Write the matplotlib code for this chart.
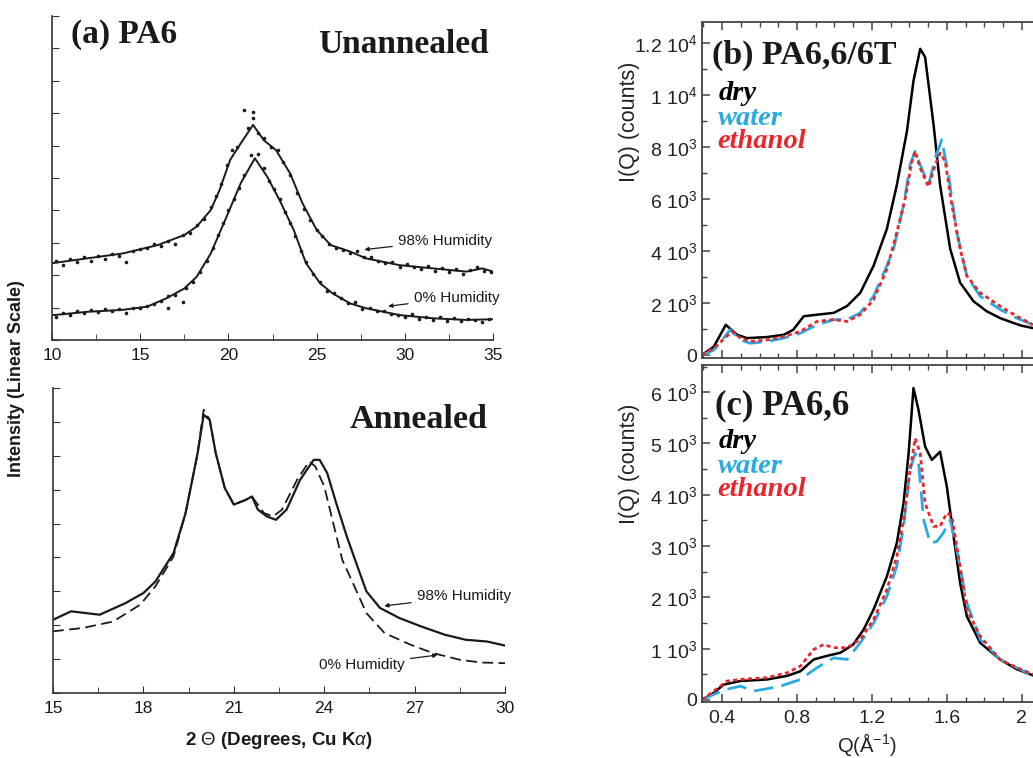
import numpy as np
import matplotlib
matplotlib.use('Agg')
import matplotlib.pyplot as plt
from matplotlib.ticker import MultipleLocator, FixedLocator

plt.rcParams['font.family'] = ['Liberation Sans', 'DejaVu Sans']
plt.rcParams['mathtext.fontset'] = 'custom'
plt.rcParams['mathtext.rm'] = 'Liberation Sans'
plt.rcParams['mathtext.it'] = 'Liberation Sans:italic'
plt.rcParams['mathtext.bf'] = 'Liberation Sans:bold'

# ---- (a) PA6, unannealed: smoothed curves (2theta, intensity a.u.)
un98_x = [10, 12, 14, 16, 17.5, 18.2, 19, 19.5, 20.1, 20.7, 21.4, 22, 22.7, 23.5, 24.2, 25, 25.8, 26.9, 27.8, 29.7, 31.6, 33.5, 34.4, 35]
un98_y = [2.37, 2.52, 2.67, 2.93, 3.24, 3.50, 4.01, 4.63, 5.56, 6.07, 6.64, 6.17, 5.86, 5.14, 4.22, 3.40, 2.93, 2.73, 2.52, 2.31, 2.21, 2.11, 2.21, 2.11]
un0_x = [10.1, 12, 14, 15.4, 16.5, 17.5, 18.2, 19, 19.9, 20.7, 21.5, 22.2, 22.9, 23.7, 24.4, 25.2, 25.9, 26.9, 27.8, 29.7, 31.6, 33.5, 35]
un0_y = [0.77, 0.87, 0.93, 1.03, 1.29, 1.59, 1.95, 2.67, 3.81, 4.84, 5.61, 5.04, 4.32, 3.40, 2.37, 1.75, 1.44, 1.13, 0.98, 0.77, 0.67, 0.62, 0.64]

# measured points
un98_px = [10.2, 10.6, 11.0, 11.4, 11.8, 12.2, 12.6, 13.0, 13.4, 13.8, 14.2, 14.6, 15.0, 15.4, 15.8, 16.2, 16.6, 17.0,
           17.4, 17.8, 18.2, 18.6, 19.0, 19.3, 19.6, 19.9, 20.2, 20.5, 20.9, 21.1, 21.4, 21.4, 21.7, 22.0, 22.4, 22.8,
           23.1, 23.5, 23.9, 24.3, 24.6, 25.0, 25.3, 25.7, 26.1, 26.5, 26.9, 27.3, 27.7, 28.1, 28.5, 28.9, 29.3, 29.7,
           30.1, 30.5, 30.9, 31.3, 31.7, 32.1, 32.5, 32.9, 33.3, 33.7, 34.1, 34.5, 34.9]
un98_py = [2.45, 2.30, 2.50, 2.40, 2.55, 2.45, 2.58, 2.50, 2.66, 2.60, 2.40, 2.75, 2.80, 2.85, 2.95, 2.90, 3.05, 2.95,
           3.25, 3.30, 3.55, 3.75, 4.10, 4.45, 4.80, 5.40, 5.85, 5.95, 7.10, 6.55, 7.05, 6.85, 6.40, 6.25, 5.95, 5.85,
           5.50, 5.10, 4.55, 4.05, 3.70, 3.40, 3.20, 2.95, 2.85, 2.78, 2.70, 2.75, 2.55, 2.55, 2.45, 2.38, 2.40, 2.25,
           2.35, 2.25, 2.20, 2.28, 2.12, 2.22, 2.10, 2.18, 2.05, 2.15, 2.25, 2.12, 2.10]
un0_px = [10.2, 10.6, 11.0, 11.4, 11.8, 12.2, 12.6, 13.0, 13.4, 13.8, 14.2, 14.6, 15.0, 15.4, 15.8, 16.2, 16.6, 16.6,
          17.0, 17.4, 17.6, 18.0, 18.4, 18.8, 19.1, 19.4, 19.7, 20.0, 20.3, 20.6, 20.9, 21.3, 21.7, 22.0, 22.3, 22.6,
          22.9, 23.2, 23.5, 23.8, 24.1, 24.4, 24.8, 25.2, 25.6, 26.0, 26.4, 26.8, 27.2, 27.6, 28.0, 28.4, 28.8, 29.2,
          29.6, 30.0, 30.4, 30.8, 31.2, 31.6, 32.0, 32.4, 32.8, 33.2, 33.6, 34.0, 34.4, 34.8]
un0_py = [0.72, 0.82, 0.78, 0.88, 0.84, 0.92, 0.85, 0.95, 0.88, 0.96, 0.82, 1.00, 0.98, 1.05, 1.12, 1.20, 0.98, 1.35,
          1.38, 1.18, 1.62, 1.80, 2.10, 2.45, 2.85, 3.25, 3.60, 4.00, 4.35, 4.70, 5.10, 5.70, 5.74, 5.30, 4.90, 4.65,
          4.35, 3.95, 3.60, 3.20, 2.75, 2.40, 2.05, 1.80, 1.50, 1.45, 1.30, 1.15, 1.18, 0.95, 1.00, 0.88, 0.90, 0.80,
          0.78, 0.72, 0.80, 0.65, 0.70, 0.62, 0.70, 0.60, 0.68, 0.58, 0.66, 0.62, 0.55, 0.66]

# ---- (a) PA6, annealed
an98_x = [15, 15.6, 16.55, 17.4, 18, 18.4, 19, 19.4, 19.8, 20.0, 20.2, 20.4, 20.7, 21.0, 21.4, 21.6, 21.8, 22.1, 22.4,
          22.75, 23.2, 23.65, 23.85, 24.1, 24.4, 24.75, 25.1, 25.4, 25.85, 26.5, 27.2, 28.0, 28.7, 29.4, 30]
an98_y = [2.16, 2.41, 2.31, 2.65, 2.95, 3.29, 4.13, 5.31, 7.08, 8.21, 8.06, 7.08, 6.05, 5.56, 5.70, 5.80, 5.41, 5.21, 5.11,
          5.41, 6.29, 6.88, 6.88, 6.49, 5.60, 4.62, 3.74, 3.00, 2.51, 2.21, 1.97, 1.72, 1.57, 1.52, 1.40]
an0_x = [15, 16.0, 17.0, 17.9, 18.4, 19, 19.4, 19.8, 20.0, 20.2, 20.4, 20.7, 21.0, 21.4, 21.6, 22.0, 22.3, 22.6, 23.1,
         23.5, 23.7, 24.0, 24.3, 24.6, 25.0, 25.4, 26.0, 26.85, 27.6, 28.5, 29.2, 30]
an0_y = [1.82, 1.92, 2.11, 2.61, 3.15, 4.03, 5.31, 7.08, 8.36, 8.06, 7.08, 6.05, 5.56, 5.70, 5.80, 5.31, 5.21, 5.41, 6.29,
         6.83, 6.69, 6.10, 5.01, 3.93, 3.15, 2.36, 1.77, 1.43, 1.18, 0.98, 0.90, 0.88]

# ---- (b) PA6,6/6T  Q (1/A) vs I (counts)
b_dry_q = [0.293, 0.356, 0.42, 0.48, 0.533, 0.64, 0.73, 0.78, 0.836, 0.907, 0.996, 1.067, 1.138, 1.209, 1.28, 1.333,
           1.387, 1.422, 1.458, 1.484, 1.529, 1.564, 1.618, 1.671, 1.742, 1.813, 1.884, 1.956, 2.0, 2.06]
b_dry_i = [0, 320, 1160, 780, 650, 690, 780, 970, 1490, 1550, 1620, 1880, 2390, 3430, 4850, 6530,
           8600, 10540, 11770, 11450, 8860, 6530, 4080, 2780, 2070, 1680, 1420, 1230, 1125, 1035]
b_wat_q = [0.293, 0.356, 0.444, 0.498, 0.551, 0.64, 0.73, 0.818, 0.907, 0.996, 1.067, 1.138, 1.209, 1.28, 1.316, 1.369,
           1.404, 1.431, 1.458, 1.502, 1.538, 1.573, 1.609, 1.653, 1.707, 1.778, 1.884, 1.973, 2.06]
b_wat_i = [0, 190, 970, 580, 450, 520, 650, 840, 1160, 1360, 1360, 1620, 2260, 3430, 4080, 5760,
           7310, 7830, 7310, 6530, 7570, 8280, 6920, 4720, 3040, 2260, 1750, 1420, 1160]
b_eth_q = [0.293, 0.356, 0.453, 0.498, 0.551, 0.64, 0.73, 0.818, 0.907, 0.996, 1.067, 1.138, 1.209, 1.28, 1.333, 1.378,
           1.413, 1.431, 1.458, 1.502, 1.538, 1.564, 1.591, 1.627, 1.671, 1.707, 1.778, 1.884, 1.973, 2.06]
b_eth_i = [0, 260, 905, 650, 520, 580, 710, 905, 1290, 1360, 1290, 1550, 2130, 3300, 4720, 6020,
           7440, 7830, 7180, 6470, 7310, 7760, 7440, 5760, 4080, 3040, 2390, 1880, 1490, 1160]

# ---- (c) PA6,6
c_dry_q = [0.293, 0.356, 0.409, 0.498, 0.64, 0.747, 0.818, 0.889, 0.96, 1.031, 1.1, 1.156, 1.209, 1.28, 1.333, 1.369,
           1.396, 1.422, 1.449, 1.484, 1.52, 1.564, 1.6, 1.636, 1.671, 1.707, 1.778, 1.884, 1.973, 2.06]
c_dry_i = [0, 140, 300, 370, 400, 470, 560, 790, 860, 920, 1080, 1375, 1765, 2410, 3060, 3840,
           4810, 6080, 5650, 4940, 4680, 4840, 4160, 3190, 2280, 1630, 1115, 790, 600, 480]
c_wat_q = [0.293, 0.356, 0.427, 0.498, 0.569, 0.64, 0.711, 0.818, 0.907, 0.996, 1.067, 1.138, 1.209, 1.28, 1.333, 1.369,
           1.404, 1.431, 1.449, 1.476, 1.511, 1.547, 1.582, 1.618, 1.653, 1.707, 1.778, 1.884, 1.973, 2.06]
c_wat_i = [0, 110, 210, 270, 175, 220, 270, 400, 630, 820, 790, 1115, 1500, 2020, 2610, 3385,
           4490, 4810, 4620, 3515, 3060, 3090, 3260, 3515, 2930, 1890, 1180, 790, 630, 470]
c_eth_q = [0.293, 0.356, 0.427, 0.498, 0.64, 0.747, 0.818, 0.889, 0.942, 0.996, 1.067, 1.138, 1.209, 1.28, 1.333, 1.369,
           1.404, 1.431, 1.458, 1.484, 1.529, 1.564, 1.6, 1.627, 1.662, 1.707, 1.778, 1.884, 1.973, 2.06]
c_eth_i = [0, 175, 370, 400, 435, 530, 660, 985, 1080, 1020, 1020, 1180, 1570, 2150, 2800, 3515,
           4490, 5100, 4810, 3840, 3385, 3385, 3645, 3580, 2800, 1765, 1245, 790, 630, 500]

b_yticks = [0, 2000, 4000, 6000, 8000, 10000, 12000]
b_ylabels = ['0', '2 10$^3$', '4 10$^3$', '6 10$^3$', '8 10$^3$', '1 10$^4$', '1.2 10$^4$']
c_yticks = [0, 1000, 2000, 3000, 4000, 5000, 6000]
c_ylabels = ['0', '1 10$^3$', '2 10$^3$', '3 10$^3$', '4 10$^3$', '5 10$^3$', '6 10$^3$']
q_ticks = [0.4, 0.8, 1.2, 1.6, 2.0]
q_labels = ['0.4', '0.8', '1.2', '1.6', '2']

BLUE = '#29aae1'
RED = '#e8262c'
INK = '#1a1a1a'
W, H = 1033, 758

fig = plt.figure(figsize=(W / 100, H / 100), dpi=100)


def px_axes(x0, y0, x1, y1):
    # axes from pixel box (top-left origin)
    return fig.add_axes([x0 / W, 1 - y1 / H, (x1 - x0) / W, (y1 - y0) / H])


def style_left(ax):
    for s in ['top', 'right']:
        ax.spines[s].set_visible(False)
    for s in ['left', 'bottom']:
        ax.spines[s].set_color('#333333')
        ax.spines[s].set_linewidth(1.2)
    ax.tick_params(direction='in', which='both', colors='#333333', labelcolor=INK, labelsize=12.5, pad=6)
    ax.tick_params(which='major', length=5)
    ax.tick_params(which='minor', length=4)
    ax.set_yticklabels([])


# (a) top: unannealed
ax1 = px_axes(52, 16, 493, 340)
ax1.plot(un98_x, un98_y, color=INK, lw=1.4)
ax1.plot(un0_x, un0_y, color=INK, lw=1.4)
ax1.plot(un98_px, un98_py, ls='none', marker='o', ms=1.6, color=INK)
ax1.plot(un0_px, un0_py, ls='none', marker='o', ms=1.6, color=INK)
ax1.set_xlim(10, 35)
ax1.set_ylim(0, 10)
ax1.xaxis.set_major_locator(MultipleLocator(5))
ax1.xaxis.set_minor_locator(MultipleLocator(2.5))
ax1.yaxis.set_major_locator(MultipleLocator(1))
style_left(ax1)
ax1.annotate('98% Humidity', xy=(27.55, 2.78), xytext=(29.6, 3.07), fontsize=11, color=INK,
             va='center', ha='left', arrowprops=dict(arrowstyle='-|>', color=INK, lw=0.9, mutation_scale=6))
ax1.annotate('0% Humidity', xy=(28.9, 1.03), xytext=(30.5, 1.31), fontsize=11, color=INK,
             va='center', ha='left', arrowprops=dict(arrowstyle='-|>', color=INK, lw=0.9, mutation_scale=6))

# (a) bottom: annealed
ax2 = px_axes(53, 388, 505, 693)
ax2.plot(an98_x, an98_y, color=INK, lw=1.6)
ax2.plot(an0_x, an0_y, color=INK, lw=1.3, ls=(0, (6, 3)))
ax2.set_xlim(15, 30)
ax2.set_ylim(0, 9)
ax2.xaxis.set_major_locator(MultipleLocator(3))
ax2.xaxis.set_minor_locator(MultipleLocator(1.5))
ax2.yaxis.set_major_locator(MultipleLocator(1))
style_left(ax2)
ax2.annotate('98% Humidity', xy=(25.9, 2.56), xytext=(27.07, 2.85), fontsize=11, color=INK,
             va='center', ha='left', annotation_clip=False,
             arrowprops=dict(arrowstyle='-|>', color=INK, lw=0.9, mutation_scale=6))
ax2.annotate('0% Humidity', xy=(27.85, 1.13), xytext=(26.68, 0.84), fontsize=11, color=INK,
             va='center', ha='right', arrowprops=dict(arrowstyle='-|>', color=INK, lw=0.9, mutation_scale=6))
ax2.set_xlabel('2 $\\Theta$ (Degrees, Cu K$\\alpha$)', fontsize=13.5, fontweight='bold', color=INK, labelpad=10)

fig.text(17 / W, 1 - 379 / H, 'Intensity (Linear Scale)', rotation=90, ha='center', va='center',
         fontsize=13, fontweight='bold', color=INK)

serif = ['Liberation Serif', 'DejaVu Serif']
fig.text(71 / W, 1 - 43 / H, '(a) PA6', fontsize=24, fontweight='bold', family=serif, color=INK)
fig.text(489 / W, 1 - 53 / H, 'Unannealed', fontsize=24, fontweight='bold', family=serif, color=INK, ha='right')
fig.text(487 / W, 1 - 428 / H, 'Annealed', fontsize=24.5, fontweight='bold', family=serif, color=INK, ha='right')


def style_right(ax, yticks, ylabels, minor_y):
    ax.spines['right'].set_visible(False)
    for s in ['top', 'left', 'bottom']:
        ax.spines[s].set_color('#444444')
        ax.spines[s].set_linewidth(1.3)
    ax.set_xlim(0.293, 2.06)
    ax.xaxis.set_major_locator(FixedLocator(q_ticks))
    ax.xaxis.set_minor_locator(MultipleLocator(0.1))
    ax.yaxis.set_major_locator(FixedLocator(yticks))
    ax.yaxis.set_minor_locator(MultipleLocator(minor_y))
    ax.set_yticklabels(ylabels)
    ax.tick_params(direction='in', which='both', top=True, colors='#444444', labelcolor='#222222', labelsize=14)
    ax.tick_params(which='major', length=6, width=1.1)
    ax.tick_params(which='minor', length=3.5, width=1.0)
    ax.tick_params(axis='x', pad=6)


axb = px_axes(702, 22, 1033, 358)
axb.plot(b_dry_q, b_dry_i, color='black', lw=1.8)
axb.plot(b_wat_q, b_wat_i, color=BLUE, lw=2.0, ls=(0, (7, 3)))
axb.plot(b_eth_q, b_eth_i, color=RED, lw=2.0, ls=(0, (1.5, 1.2)))
axb.set_ylim(-115, 12800)
style_right(axb, b_yticks, b_ylabels, 1000)
axb.set_xticklabels([])

axc = px_axes(702, 365, 1033, 702)
axc.plot(c_dry_q, c_dry_i, color='black', lw=1.8)
axc.plot(c_wat_q, c_wat_i, color=BLUE, lw=2.0, ls=(0, (7, 3)))
axc.plot(c_eth_q, c_eth_i, color=RED, lw=2.0, ls=(0, (1.5, 1.2)))
axc.set_ylim(-39, 6530)
style_right(axc, c_yticks, c_ylabels, 500)
axc.set_xticklabels(q_labels)
fig.text(867 / W, 1 - 744 / H, 'Q($\\mathrm{\\AA}^{-1}$)', fontsize=14.5, color='#222222', ha='center', va='center')

for y in (122, 464):
    fig.text(630 / W, 1 - y / H, 'I(Q) (counts)', rotation=90, ha='center', va='center',
             fontsize=15.5, color='#222222')

fig.text(712 / W, 1 - 64 / H, '(b) PA6,6/6T', fontsize=24.5, fontweight='bold', family=serif, color=INK)
fig.text(715 / W, 1 - 414 / H, '(c) PA6,6', fontsize=25, fontweight='bold', family=serif, color=INK)
for y0 in (100, 448):
    fig.text(719 / W, 1 - y0 / H, 'dry', fontsize=20.5, fontweight='bold', style='italic', family=serif, color='black')
    fig.text(718 / W, 1 - (y0 + 25) / H, 'water', fontsize=20.5, fontweight='bold', style='italic', family=serif, color=BLUE)
    fig.text(717 / W, 1 - (y0 + 48) / H, 'ethanol', fontsize=20.5, fontweight='bold', style='italic', family=serif, color=RED)

fig.savefig('out.png', dpi=100)
